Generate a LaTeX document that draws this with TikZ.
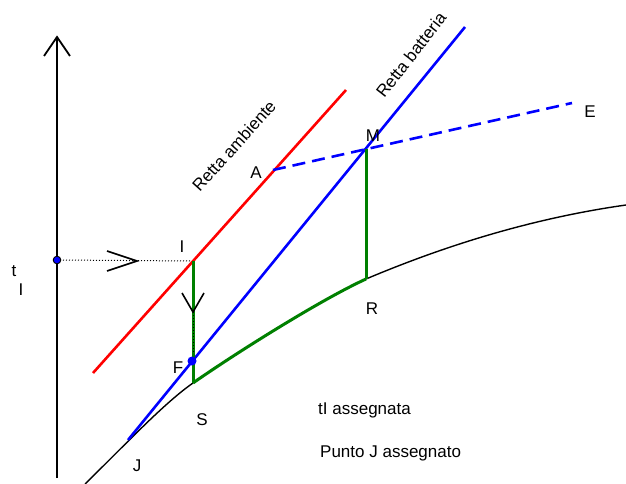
\documentclass[tikz,border=0pt]{standalone}
\usepackage{fontspec}
\setmainfont{Liberation Sans}
\usetikzlibrary{calc}
\begin{document}
\begin{tikzpicture}[x=1pt,y=-1pt,
  lbl/.style={font=\fontsize{17}{17}\selectfont, inner sep=0pt},
  axisline/.style={line width=1.8pt, black},
  redline/.style={line width=2.6pt, red},
  blueline/.style={line width=2.6pt, blue},
  greenline/.style={line width=3pt, green!50!black},
  curveline/.style={line width=1.4pt, black},
  dotline/.style={line width=1pt, black, dotted},
  chev/.style={line width=1.6pt, black}]
\useasboundingbox (0,0) rectangle (626,484);
% coordinates
\coordinate (Ob) at (57,478);
\coordinate (Ot) at (57,37);
\coordinate (T) at (57,260);
\coordinate (I) at (193,261);
\coordinate (Ra) at (93,373);
\coordinate (Rb) at (346,90);
\coordinate (J) at (128,440);
\coordinate (Bb) at (465,27);
\coordinate (A) at (273,170);
\coordinate (Ee) at (572,103);
\coordinate (M) at (366,149);
\coordinate (F) at (192,361);
\coordinate (S) at (193,383);
\coordinate (R) at (366,279);
\coordinate (C0) at (85,484);
\coordinate (C3) at (626,205);
\coordinate (H) at (137,261);
\coordinate (V) at (193,312);
% axis
\draw[axisline] (Ob) -- (Ot);
\draw[axisline] ($(Ot)+(-13,19)$) -- (Ot) -- ($(Ot)+(13,19)$);
% saturation curve
\draw[curveline] (C0) .. controls (125,445) and (163,404) .. (S);
\draw[curveline] (R) .. controls (430,252) and (520,220) .. (C3);
% dotted horizontal with chevron
\draw[dotline] (T) -- (I);
\draw[chev] ($(H)+(-30,-10)$) -- (H) -- ($(H)+(-30,10)$);
% red line
\draw[redline] (Ra) -- (Rb);
% blue line and dashed
\draw[blueline] (J) -- (Bb);
\draw[blueline, dash pattern=on 13pt off 7pt] (A) -- (Ee);
% green
\draw[greenline] (I) -- (S);
\draw[greenline] (S) .. controls (233,355) and (320,300) .. (R);
\draw[greenline] (M) -- (R);
% down chevron
\draw[dotline] (V) -- ($(V)+(0,40)$);
\draw[chev] ($(V)+(-11,-19)$) -- (V) -- ($(V)+(11,-19)$);
% dots
\fill[blue, draw=black, line width=0.9pt] (T) circle (3.8);
\fill[blue] (F) circle (4.5);
% labels
\node[lbl] (lt) at (14,271) {t};
\node[lbl] (lI2) at (21,290) {I};
\node[lbl] (lI) at (182,247) {I};
\node[lbl] (lA) at (256,173) {A};
\node[lbl] (lM) at (373,136) {M};
\node[lbl] (lE) at (590,112) {E};
\node[lbl] (lR) at (372,309) {R};
\node[lbl] (lS) at (202,420) {S};
\node[lbl] (lF) at (178,368) {F};
\node[lbl] (lJ) at (137,466) {J};
\node[lbl, anchor=west] (t1) at (318,410) {tI assegnata};
\node[lbl, anchor=west] (t2) at (320,453) {Punto J assegnato};
\node[lbl, rotate=48] (ra) at (234,146) {Retta ambiente};
\node[lbl, rotate=52] (rb) at (411,55) {Retta batteria};
\end{tikzpicture}
\end{document}
